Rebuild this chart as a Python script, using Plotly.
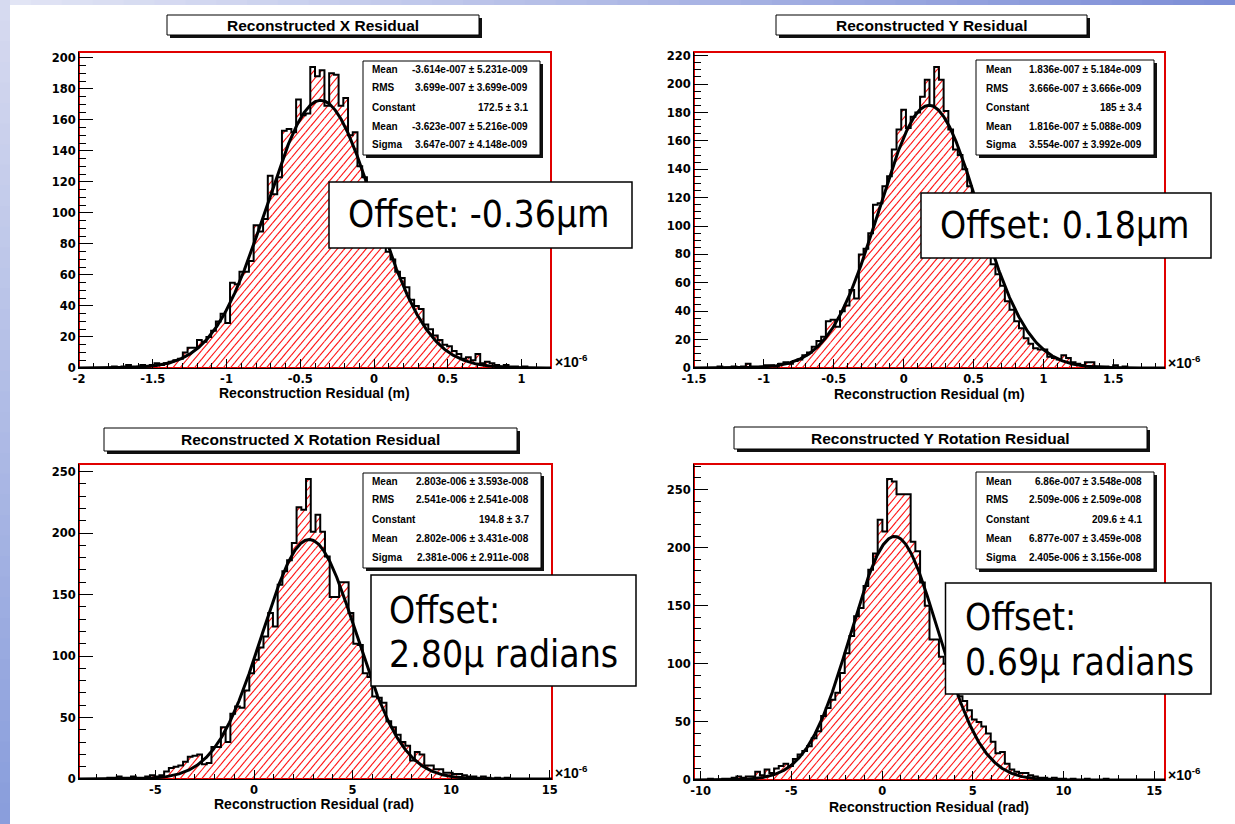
import numpy as np
import plotly.graph_objects as go

W, H = 1235, 824

# ---------------- data ----------------
titles = ["Reconstructed X Residual", "Reconstructed Y Residual",
          "Reconstructed X Rotation Residual", "Reconstructed Y Rotation Residual"]
x_titles = ["Reconstruction Residual (m)", "Reconstruction Residual (m)",
            "Reconstruction Residual (rad)", "Reconstruction Residual (rad)"]

# histogram ranges (in units of 1e-6), 100 bins each
x_ranges = [(-2.0, 1.2), (-1.5, 1.87), (-8.88, 15.12), (-10.37, 15.59)]
y_max = [203.7, 222.6, 256.2, 272.0]

counts_x = [0, 0, 0, 0, 0, 0, 0, 1, 0, 1, 2, 1, 1, 2, 1,
            2, 3, 2, 3, 4, 5, 6, 10, 13, 13, 18, 17, 20, 24, 30,
            35, 29, 55, 54, 62, 62, 69, 92, 88, 96, 124, 112, 123, 153, 154,
            152, 173, 163, 164, 194, 188, 192, 169, 190, 189, 169, 174, 150, 152, 130,
            123, 117, 109, 100, 90, 75, 70, 62, 58, 52, 44, 40, 38, 28, 25,
            21, 18, 15, 14, 11, 9, 6, 7, 5, 9, 3, 4, 3, 2, 1,
            2, 1, 1, 0, 1, 0, 0, 0, 0, 0]
counts_y = [0, 0, 0, 0, 0, 1, 0, 0, 1, 0, 1, 3, 1, 1, 1,
            2, 2, 1, 3, 4, 3, 5, 6, 9, 11, 15, 19, 22, 33, 34,
            29, 40, 44, 55, 49, 80, 84, 95, 115, 116, 128, 135, 154, 168, 182,
            169, 177, 180, 191, 203, 185, 212, 203, 181, 168, 154, 150, 140, 128, 118,
            108, 98, 88, 73, 66, 58, 47, 41, 33, 28, 21, 17, 14, 13, 13,
            8, 7, 6, 9, 7, 4, 3, 2, 4, 4, 1, 1, 1, 0, 2,
            0, 1, 0, 0, 0, 0, 0, 0, 0, 0]
counts_rx = [0, 0, 0, 0, 0, 0, 1, 1, 2, 1, 1, 2, 1, 1, 2,
             3, 2, 3, 6, 9, 10, 11, 14, 18, 19, 20, 12, 13, 26, 26,
             42, 30, 53, 59, 58, 72, 86, 97, 107, 116, 135, 124, 158, 169, 178,
             192, 221, 219, 244, 201, 215, 201, 181, 148, 148, 160, 160, 135, 110, 109,
             86, 83, 67, 66, 62, 47, 42, 36, 30, 27, 15, 22, 20, 11, 11,
             8, 8, 5, 5, 4, 4, 3, 2, 2, 1, 2, 1, 0, 1, 0,
             1, 0, 0, 0, 0, 0, 0, 0, 0, 0]
counts_ry = [0, 0, 0, 1, 0, 0, 1, 1, 2, 3, 2, 3, 3, 7, 4,
             9, 6, 10, 12, 14, 12, 18, 22, 25, 29, 36, 42, 55, 62, 69,
             75, 92, 109, 124, 141, 148, 167, 181, 195, 224, 214, 259, 257, 246, 246,
             246, 205, 197, 170, 150, 121, 121, 106, 100, 95, 85, 72, 68, 60, 52,
             50, 46, 40, 33, 23, 24, 14, 9, 7, 6, 6, 4, 3, 2, 2,
             1, 2, 1, 1, 0, 1, 0, 0, 1, 0, 0, 0, 1, 0, 0,
             0, 0, 0, 0, 0, 0, 0, 0, 0, 0]
all_counts = [counts_x, counts_y, counts_rx, counts_ry]

# Gaussian fit parameters (mean/sigma in units of 1e-6)
fit_const = [172.5, 185.0, 194.8, 209.6]
fit_mean = [-0.3623, 0.1816, 2.802, 0.6877]
fit_sigma = [0.3647, 0.3554, 2.381, 2.405]

xtick_vals = [[-2, -1.5, -1, -0.5, 0, 0.5, 1],
              [-1.5, -1, -0.5, 0, 0.5, 1, 1.5],
              [-5, 0, 5, 10, 15],
              [-10, -5, 0, 5, 10, 15]]
xtick_text = [["-2", "-1.5", "-1", "-0.5", "0", "0.5", "1"],
              ["-1.5", "-1", "-0.5", "0", "0.5", "1", "1.5"],
              ["-5", "0", "5", "10", "15"],
              ["-10", "-5", "0", "5", "10", "15"]]
x_minor = [0.1, 0.1, 1, 1]
y_major = [20, 20, 50, 50]
y_minor = [5, 5, 10, 10]

stats_labels = ["Mean", "RMS", "Constant", "Mean", "Sigma"]
stats_values = [
    ["-3.614e-007 ± 5.231e-009", "3.699e-007 ± 3.699e-009", "172.5 ± 3.1",
     "-3.623e-007 ± 5.216e-009", "3.647e-007 ± 4.148e-009"],
    ["1.836e-007 ± 5.184e-009", "3.666e-007 ± 3.666e-009", "185 ± 3.4",
     "1.816e-007 ± 5.088e-009", "3.554e-007 ± 3.992e-009"],
    ["2.803e-006 ± 3.593e-008", "2.541e-006 ± 2.541e-008", "194.8 ± 3.7",
     "2.802e-006 ± 3.431e-008", "2.381e-006 ± 2.911e-008"],
    ["6.86e-007 ± 3.548e-008", "2.509e-006 ± 2.509e-008", "209.6 ± 4.1",
     "6.877e-007 ± 3.459e-008", "2.405e-006 ± 3.156e-008"],
]
offset_lines = [["Offset: -0.36µm"], ["Offset: 0.18µm"],
                ["Offset:", "2.80µ radians"], ["Offset:", "0.69µ radians"]]

# ---------------- layout geometry (pixels) ----------------
frames = [(79, 52, 551, 368), (694, 52, 1165, 368), (79, 464, 552, 779), (694, 464, 1165, 780)]
title_boxes = [(167, 15, 479, 35), (776, 15, 1087, 35), (104, 428, 517, 451), (734, 427, 1147, 449)]
stats_boxes = [(363, 61, 540, 155), (976, 60, 1154, 155), (363, 473, 541, 568), (976, 472, 1154, 569)]
stats_lx = [370, 984, 370, 984]
stats_rx = [530, 1144, 531, 1144]
stats_rows = [[69, 88, 107, 126, 144], [70, 88.5, 107.5, 126.5, 145],
              [482, 500, 519, 538.5, 557], [482, 500, 519, 538.5, 557]]
offset_boxes = [(329, 182, 632, 248), (921, 193, 1211, 258), (371, 575, 636, 686), (945.5, 583, 1211, 694)]
offset_tx = [346, 938, 387, 963]
offset_ty = [[215], [225.5], [610, 654], [617.5, 662]]
xtitle_pos = [(314, 393), (929, 394), (314, 804), (929, 807)]
exp_pos = [(553, 361), (1166, 362), (553, 772), (1166, 774)]

HATCH_SPACING = 7.2     # horizontal distance between hatch lines, px
HATCH_ANGLE = 50.0      # degrees


def px(x):
    return x / W


def py(y):
    return 1 - y / H


def hatch_segments(edges, counts, frame, xr, ymax):
    """Diagonal hatch lines clipped to the histogram bars (computed in pixel space)."""
    fl, ft, fr, fb = frame
    U, V = fr - fl, fb - ft
    x0, x1 = xr
    t = np.tan(np.radians(HATCH_ANGLE))
    xs, ys = [], []
    for j, cnt in enumerate(counts):
        if cnt <= 0:
            continue
        uL = (edges[j] - x0) / (x1 - x0) * U
        uR = (edges[j + 1] - x0) / (x1 - x0) * U
        vT = cnt / ymax * V
        kmin = int(np.floor((uL - vT / t) / HATCH_SPACING))
        kmax = int(np.ceil(uR / HATCH_SPACING))
        for kk in range(kmin, kmax + 1):
            c = kk * HATCH_SPACING
            va = max(0.0, (uL - c) * t)
            vb = min(vT, (uR - c) * t)
            if vb <= va:
                continue
            ua, ub = c + va / t, c + vb / t
            xs += [x0 + ua / U * (x1 - x0), x0 + ub / U * (x1 - x0), None]
            ys += [va / V * ymax, vb / V * ymax, None]
    return xs, ys


ROOT_FONT = "Liberation Sans"
TICK_FONT = dict(family="DejaVu Sans", size=11.5, color="black", weight="bold")

fig = go.Figure()
shapes = []
annotations = []

# background slide decoration (gradient bands)
n_steps = 40
for i in range(n_steps):
    t = i / (n_steps - 1)
    c = (int(226 - 100 * t), int(229 - 86 * t), int(245 - 30 * t))
    shapes.append(dict(type="rect", xref="paper", yref="paper", layer="below",
                       x0=px(W * i / n_steps), x1=px(W * (i + 1) / n_steps + 1),
                       y0=py(5), y1=py(0), line=dict(width=0),
                       fillcolor=f"rgb{c}"))
for i in range(n_steps):
    t = i / (n_steps - 1)
    c = (int(214 - 76 * t), int(218 - 60 * t), int(240 - 20 * t))
    shapes.append(dict(type="rect", xref="paper", yref="paper", layer="below",
                       x0=px(0), x1=px(10),
                       y0=py(H * (i + 1) / n_steps + 1), y1=py(H * i / n_steps),
                       line=dict(width=0), fillcolor=f"rgb{c}"))

for i in range(4):
    k = "" if i == 0 else str(i + 1)
    xa, ya = "x" + k, "y" + k
    x0, x1 = x_ranges[i]
    counts = np.array(all_counts[i], dtype=float)
    edges = np.linspace(x0, x1, len(counts) + 1)

    # hatched fill (red diagonal lines)
    hx, hy = hatch_segments(edges, counts, frames[i], x_ranges[i], y_max[i])
    fig.add_trace(go.Scatter(x=hx, y=hy, mode="lines", line=dict(color="#ff1010", width=1.1),
                             connectgaps=False, xaxis=xa, yaxis=ya,
                             hoverinfo="skip", showlegend=False))

    # step outline
    ys = np.concatenate([counts, counts[-1:]])
    fig.add_trace(go.Scatter(
        x=edges, y=ys, mode="lines", line=dict(color="black", width=2, shape="hv"),
        xaxis=xa, yaxis=ya, hoverinfo="skip", showlegend=False))

    # gaussian fit
    xf = np.linspace(x0, x1, 800)
    yf = fit_const[i] * np.exp(-0.5 * ((xf - fit_mean[i]) / fit_sigma[i]) ** 2)
    fig.add_trace(go.Scatter(x=xf, y=yf, mode="lines", line=dict(color="black", width=3),
                             xaxis=xa, yaxis=ya, hoverinfo="skip", showlegend=False))

    fl, ft, fr, fb = frames[i]
    fig.layout["xaxis" + k] = dict(
        domain=[px(fl), px(fr)], range=[x0, x1], anchor=ya, automargin=False,
        showgrid=False, zeroline=False, showline=True, linecolor="black", linewidth=1,
        tickmode="array", tickvals=xtick_vals[i], ticktext=xtick_text[i],
        ticks="inside", ticklen=9, tickwidth=1, tickcolor="black", tickfont=TICK_FONT,
        minor=dict(ticks="inside", ticklen=5, tickwidth=1, tickcolor="black",
                   tickmode="linear", tick0=0, dtick=x_minor[i], showgrid=False),
        fixedrange=True)
    fig.layout["yaxis" + k] = dict(
        domain=[py(fb), py(ft)], range=[0, y_max[i]], anchor=xa, automargin=False,
        showgrid=False, zeroline=False, showline=True, linecolor="black", linewidth=1,
        tickmode="linear", tick0=0, dtick=y_major[i],
        ticks="inside", ticklen=14, tickwidth=1, tickcolor="black", tickfont=TICK_FONT,
        minor=dict(ticks="inside", ticklen=7, tickwidth=1, tickcolor="black",
                   tickmode="linear", tick0=0, dtick=y_minor[i], showgrid=False),
        fixedrange=True)

    # red frame
    shapes.append(dict(type="rect", xref=xa + " domain", yref=ya + " domain", layer="below",
                       x0=0, x1=1, y0=0, y1=1, line=dict(color="#e00000", width=2),
                       fillcolor="rgba(0,0,0,0)"))

    # title box with shadow
    bl, bt, br, bb = title_boxes[i]
    shapes.append(dict(type="rect", xref="paper", yref="paper", layer="above",
                       x0=px(bl + 3), x1=px(br + 3), y0=py(bb + 3), y1=py(bt + 3),
                       line=dict(width=0), fillcolor="#111111"))
    shapes.append(dict(type="rect", xref="paper", yref="paper", layer="above",
                       x0=px(bl), x1=px(br), y0=py(bb), y1=py(bt),
                       line=dict(color="black", width=1), fillcolor="white"))
    annotations.append(dict(xref="paper", yref="paper", x=px((bl + br) / 2), y=py((bt + bb) / 2),
                            text=titles[i], showarrow=False, xanchor="center", yanchor="middle",
                            font=dict(family=ROOT_FONT, size=15.5, color="black", weight="bold")))

    # stats box with shadow
    sl, st, sr, sb = stats_boxes[i]
    shapes.append(dict(type="rect", xref="paper", yref="paper", layer="above",
                       x0=px(sl + 3), x1=px(sr + 3), y0=py(sb + 3), y1=py(st + 3),
                       line=dict(width=0), fillcolor="#111111"))
    shapes.append(dict(type="rect", xref="paper", yref="paper", layer="above",
                       x0=px(sl), x1=px(sr), y0=py(sb), y1=py(st),
                       line=dict(color="black", width=1), fillcolor="white"))
    for r in range(5):
        annotations.append(dict(xref="paper", yref="paper", x=px(stats_lx[i]), y=py(stats_rows[i][r]),
                                text=stats_labels[r], showarrow=False, xanchor="left", yanchor="middle",
                                font=dict(family=ROOT_FONT, size=10, color="black", weight="bold")))
        annotations.append(dict(xref="paper", yref="paper", x=px(stats_rx[i]), y=py(stats_rows[i][r]),
                                text=stats_values[i][r], showarrow=False, xanchor="right", yanchor="middle",
                                font=dict(family=ROOT_FONT, size=10, color="black", weight="bold")))

    # axis title and exponent
    annotations.append(dict(xref="paper", yref="paper", x=px(xtitle_pos[i][0]), y=py(xtitle_pos[i][1]),
                            text=x_titles[i], showarrow=False, xanchor="center", yanchor="middle",
                            font=dict(family=ROOT_FONT, size=14, color="black", weight="bold")))
    annotations.append(dict(xref="paper", yref="paper", x=px(exp_pos[i][0]), y=py(exp_pos[i][1]),
                            text="×10<sup>-6</sup>", showarrow=False, xanchor="left", yanchor="middle",
                            font=dict(family=ROOT_FONT, size=14, color="black", weight="bold")))

    # offset box
    ol, ot, orr, ob = offset_boxes[i]
    shapes.append(dict(type="rect", xref="paper", yref="paper", layer="above",
                       x0=px(ol), x1=px(orr), y0=py(ob), y1=py(ot),
                       line=dict(color="black", width=1.5), fillcolor="white"))
    for j, line in enumerate(offset_lines[i]):
        annotations.append(dict(xref="paper", yref="paper", x=px(offset_tx[i]), y=py(offset_ty[i][j]),
                                text=line, showarrow=False, xanchor="left", yanchor="middle",
                                font=dict(family="DejaVu Sans Condensed, DejaVu Sans", size=37,
                                          color="black")))

fig.update_layout(
    width=W, height=H, margin=dict(l=0, r=0, t=0, b=0),
    paper_bgcolor="white", plot_bgcolor="rgba(0,0,0,0)",
    showlegend=False, shapes=shapes, annotations=annotations,
)

fig.write_html("out.html")
